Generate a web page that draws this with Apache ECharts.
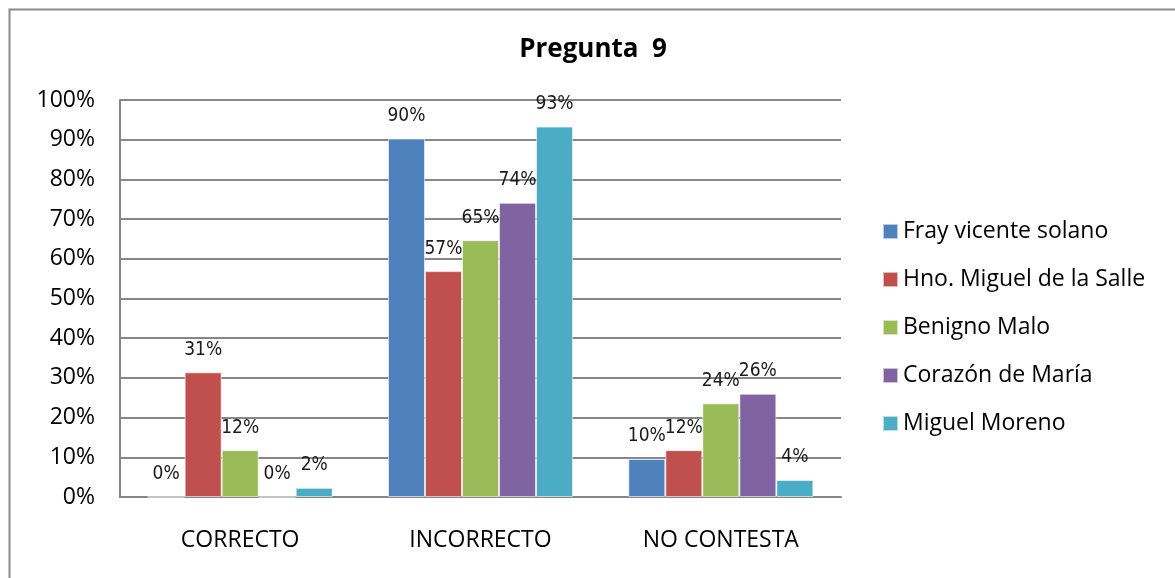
<!DOCTYPE html>
<html>
<head>
<meta charset="utf-8">
<script src="https://cdn.jsdelivr.net/npm/echarts@6/dist/echarts.min.js"></script>
<style>html,body{margin:0;padding:0;background:#fff}#c{width:1175px;height:578px}</style>
</head>
<body>
<div id="c"></div>
<script>
var categories = ['CORRECTO', 'INCORRECTO', 'NO CONTESTA'];
var seriesNames = ['Fray vicente solano', 'Hno. Miguel de la Salle', 'Benigno Malo', 'Corazón de María', 'Miguel Moreno'];
var fray = [0, 90.3, 9.6];
var hno = [31.4, 56.9, 11.8];
var benigno = [11.8, 64.7, 23.6];
var corazon = [0, 74.1, 26.0];
var moreno = [2.3, 93.3, 4.3];
var colors = ['#4F81BD', '#C0504D', '#9BBB59', '#8064A2', '#4BACC6'];
var title = 'Pregunta  9';

var seriesData = [fray, hno, benigno, corazon, moreno];
var chart = echarts.init(document.getElementById('c'), null, {renderer: 'canvas'});
var font = '"Open Sans", "Noto Sans", sans-serif';
var labelFont = '"Liberation Sans Narrow", "DejaVu Sans Condensed", sans-serif';

chart.setOption({
  animation: false,
  backgroundColor: '#ffffff',
  color: colors,
  title: {
    text: title,
    left: 588, top: 32, textAlign: 'center',
    textStyle: {fontFamily: font, fontWeight: 'bold', fontSize: 26, color: '#000'}
  },
  graphic: [{
    type: 'rect', left: 7, top: 7, silent: true,
    shape: {x: 0, y: 0, width: 1300, height: 700},
    style: {fill: 'none', stroke: '#8a8a8a', lineWidth: 2}
  }],
  legend: {
    orient: 'vertical', left: 877, top: 215,
    itemWidth: 15, itemHeight: 15, itemGap: 25,
    icon: 'rect',
    textStyle: {fontFamily: font, fontSize: 23, color: '#000'},
    data: seriesNames
  },
  grid: {left: 120, right: 334, top: 100, bottom: 81},
  xAxis: {
    type: 'category', data: categories,
    axisLine: {lineStyle: {color: '#868686', width: 2}},
    axisTick: {show: false},
    axisLabel: {fontFamily: font, fontSize: 23, color: '#000', margin: 32}
  },
  yAxis: {
    type: 'value', min: 0, max: 100, interval: 10,
    axisLine: {show: true, lineStyle: {color: '#868686', width: 2}},
    axisTick: {show: false},
    splitLine: {lineStyle: {color: '#868686', width: 2}},
    axisLabel: {fontFamily: font, fontSize: 23, color: '#000', margin: 25, formatter: '{value}%'}
  },
  series: seriesNames.map(function (n, i) {
    return {
      name: n, type: 'bar', data: seriesData[i],
      barGap: '0%', barCategoryGap: '23%',
      itemStyle: {color: colors[i], borderColor: 'rgba(255,255,255,0.6)', borderWidth: 1},
      label: {
        show: true, position: 'top', distance: 13,
        fontFamily: labelFont, fontSize: 19, color: '#1a1a1a',
        formatter: function (p) { return Math.round(p.value) + '%'; }
      }
    };
  })
});
</script>
</body>
</html>
